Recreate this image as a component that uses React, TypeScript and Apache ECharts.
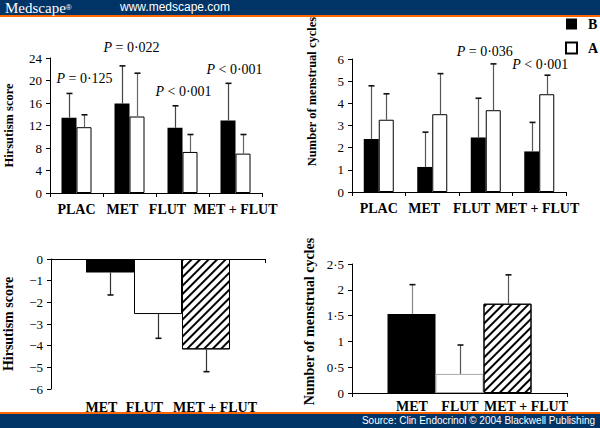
import React, { useEffect, useRef } from "react";
import * as echarts from "echarts";

// ---------- data ----------
const treatments = ["PLAC", "MET", "FLUT", "MET + FLUT"];
const hirsBefore = [13.4, 15.9, 11.6, 12.9];
const hirsBeforeTop = [17.7, 22.6, 15.5, 19.5];
const hirsAfter = [11.7, 13.6, 7.3, 7.0];
const hirsAfterTop = [13.9, 21.3, 10.4, 10.4];
const hirsPText = ["P = 0·125", "P = 0·022", "P < 0·001", "P < 0·001"];
const hirsPCat = [0, 1, 2, 3];
const hirsPY = [20.3, 25.8, 18.0, 22.0];

const cycBefore = [2.39, 1.13, 2.46, 1.83];
const cycBeforeTop = [4.79, 2.7, 4.23, 3.14];
const cycAfter = [3.26, 3.51, 3.69, 4.41];
const cycAfterTop = [4.43, 5.34, 5.78, 5.27];
const cycPText = ["P = 0·036", "P < 0·001"];
const cycPCat = [2, 3];
const cycPY = [6.32, 5.73];

const changeGroups = ["MET", "FLUT", "MET + FLUT"];
const hirsChange = [-0.62, -2.54, -4.17];
const hirsChangeEnd = [-1.66, -3.66, -5.2];
const cycChange = [1.53, 0.37, 1.73];
const cycChangeEnd = [2.1, 0.93, 2.29];

const hirsTicks = { min: 0, max: 24, interval: 4 };
const cycTicks = { min: 0, max: 6, interval: 1 };
const hirsChangeTicks = { min: -6, max: 0, interval: 1 };
const cycChangeTicks = { min: 0, max: 2.5, interval: 0.5 };

// ---------- styling ----------
const SERIF = "Liberation Serif, Times New Roman, serif";
const SANS = "Liberation Sans, Arial, sans-serif";
const NAVY = "#003366";
const ORANGE = "#ff6600";
const PAIR_BAR = 15;
const CHANGE_BAR = 48;

const hatch = {
  symbol: "rect",
  symbolSize: 1,
  color: "#000",
  backgroundColor: "#fff",
  dashArrayX: [1, 0],
  dashArrayY: [1.2, 3.2],
  rotation: -Math.PI / 4,
};

function baseY(gridIndex: number, ticks: any, name: string, nameGap: number, fmt: (v: number) => string, nameSize: number, namePad?: number[]) {
  return {
    type: "value",
    gridIndex,
    min: ticks.min,
    max: ticks.max,
    interval: ticks.interval,
    name,
    nameLocation: "middle",
    nameGap,
    nameTextStyle: {
      fontFamily: SERIF,
      fontWeight: "bold",
      fontSize: nameSize,
      color: "#000",
      padding: namePad || 0,
    },
    axisLine: { show: true, lineStyle: { color: "#000", width: 1 } },
    axisTick: { show: true, length: 4, lineStyle: { color: "#000" } },
    axisLabel: { color: "#000", fontFamily: SERIF, fontSize: 13, margin: 8, formatter: fmt },
    splitLine: { show: false },
  };
}

function tok(extra: any) {
  return Object.assign({ fontFamily: SERIF, fontWeight: "bold", fontSize: 14, color: "#000" }, extra);
}

function errorSeries(xAxisIndex: number, yAxisIndex: number, cats: number[], starts: number[], ends: number[], offset: number, lineColor: string) {
  return {
    type: "custom",
    xAxisIndex,
    yAxisIndex,
    silent: true,
    clip: false,
    z: 3,
    encode: { x: 0, y: [1, 2] },
    data: cats.map((c, i) => [c, starts[i], ends[i]]),
    renderItem: (params: any, api: any) => {
      const c = api.value(0);
      const p0 = api.coord([c, api.value(1)]);
      const p1 = api.coord([c, api.value(2)]);
      const x = Math.round(p0[0] + offset) + 0.5;
      return {
        type: "group",
        children: [
          { type: "line", shape: { x1: x, y1: p0[1], x2: x, y2: p1[1] }, style: { stroke: lineColor, lineWidth: 1.2 } },
          { type: "line", shape: { x1: x - 3, y1: p1[1], x2: x + 3, y2: p1[1] }, style: { stroke: "#111", lineWidth: 1.6 } },
        ],
      };
    },
  };
}

function pSeries(xAxisIndex: number, yAxisIndex: number, cats: number[], ys: number[], texts: string[], dxs: number[]) {
  return {
    type: "custom",
    xAxisIndex,
    yAxisIndex,
    silent: true,
    clip: false,
    z: 5,
    encode: { x: 0, y: 1 },
    data: cats.map((c, i) => [c, ys[i], i]),
    renderItem: (params: any, api: any) => {
      const i = api.value(2);
      const p = api.coord([api.value(0), api.value(1)]);
      const t = texts[i].replace(/^P/, "{i|P}");
      return {
        type: "text",
        x: p[0] + dxs[i],
        y: p[1],
        style: {
          text: t,
          fontFamily: SERIF,
          fontSize: 14,
          fill: "#000",
          align: "center",
          verticalAlign: "middle",
          rich: { i: { fontFamily: SERIF, fontSize: 14, fontStyle: "italic", fill: "#000" } },
        },
      };
    },
  };
}

const dotFmt = (v: number) => String(v).replace(".", "·");
const minusFmt = (v: number) => (v < 0 ? "\u2212" + Math.abs(v) : String(v));

export default function App() {
  const ref = useRef<HTMLDivElement>(null);
  useEffect(() => {
    const chart = echarts.init(ref.current!, null, { renderer: "svg" });
    const topXAxis = (gridIndex: number, pads: number[]) => ({
      type: "category",
      gridIndex,
      data: treatments,
      axisLine: { show: true, lineStyle: { color: "#000", width: 1 } },
      axisTick: { show: true, length: 4, lineStyle: { color: "#000" } },
      axisLabel: {
        margin: 9,
        interval: 0,
        formatter: (v: string, i: number) => `{s${i}|${v}}`,
        rich: {
          s0: tok({ padding: [0, pads[0], 0, 0] }),
          s1: tok({ padding: [0, pads[1], 0, 0] }),
          s2: tok({ padding: [0, pads[2], 0, 0] }),
          s3: tok({ padding: [0, pads[3], 0, 0] }),
        },
      },
    });

    const option: any = {
      animation: false,
      backgroundColor: "#fff",
      legend: {
        data: ["B", "A"],
        orient: "vertical",
        left: 560,
        top: 12,
        itemWidth: 11,
        itemHeight: 11,
        itemGap: 10,
        icon: "rect",
        selectedMode: false,
        textStyle: { fontFamily: SERIF, fontWeight: "bold", fontSize: 14, color: "#000", padding: [0, 0, 0, 6] },
      },
      grid: [
        { left: 50, top: 58, width: 212, height: 135 },
        { left: 352, top: 59, width: 214, height: 133 },
        { left: 50, top: 259, width: 215, height: 130 },
        { left: 352, top: 264, width: 215, height: 129 },
      ],
      xAxis: [
        topXAxis(0, [0, 14, 30, 0]),
        topXAxis(1, [0, 16, 28, 4]),
        {
          type: "category",
          gridIndex: 2,
          position: "top",
          data: [""],
          axisLine: { show: true, onZero: false, lineStyle: { color: "#000", width: 1 } },
          axisTick: { show: true, inside: true, length: 4, lineStyle: { color: "#000" } },
          axisLabel: { show: false },
        },
        {
          type: "category",
          gridIndex: 2,
          position: "bottom",
          data: ["g"],
          axisLine: { show: false, onZero: false },
          axisTick: { show: false },
          axisLabel: {
            margin: 11,
            padding: [0, 0, 0, 28],
            formatter: () => `{a|${changeGroups[0]}}{b|${changeGroups[1]}}{c|${changeGroups[2]}}`,
            rich: {
              a: tok({ width: 30, align: "center" }),
              b: tok({ width: 56, align: "center" }),
              c: tok({ width: 85, align: "left" }),
            },
          },
        },
        {
          type: "category",
          gridIndex: 3,
          position: "bottom",
          data: ["g"],
          axisLine: { show: true, onZero: false, lineStyle: { color: "#000", width: 1 } },
          axisTick: { show: true, length: 4, lineStyle: { color: "#000" } },
          axisLabel: {
            margin: 6,
            padding: [0, 0, 0, 37],
            formatter: () => `{a|${changeGroups[0]}}{b|${changeGroups[1]}}{c|${changeGroups[2]}}`,
            rich: {
              a: tok({ width: 48, align: "center" }),
              b: tok({ width: 48, align: "center" }),
              c: tok({ width: 84, align: "left" }),
            },
          },
        },
      ],
      yAxis: [
        baseY(0, hirsTicks, "Hirsutism score", 35, (v) => String(v), 12.5),
        baseY(1, cycTicks, "Number of menstrual cycles", 34, (v) => String(v), 12.5, [0, 0, 0, 68]),
        baseY(2, hirsChangeTicks, "Hirsutism score", 36, minusFmt, 14),
        baseY(3, cycChangeTicks, "Number of menstrual cycles", 36, dotFmt, 14, [0, 0, 0, 14]),
      ],
      series: [
        {
          name: "B",
          type: "bar",
          xAxisIndex: 0,
          yAxisIndex: 0,
          barWidth: PAIR_BAR,
          barGap: "0%",
          itemStyle: { color: "#000" },
          data: hirsBefore,
        },
        {
          name: "A",
          type: "bar",
          xAxisIndex: 0,
          yAxisIndex: 0,
          barWidth: PAIR_BAR,
          barGap: "0%",
          itemStyle: { color: "#fff", borderColor: "#000", borderWidth: 1 },
          data: hirsAfter,
        },
        errorSeries(0, 0, [0, 1, 2, 3], hirsBefore, hirsBeforeTop, -PAIR_BAR / 2, "#444"),
        errorSeries(0, 0, [0, 1, 2, 3], hirsAfter, hirsAfterTop, PAIR_BAR / 2, "#666"),
        pSeries(0, 0, hirsPCat, hirsPY, hirsPText, [8, 2, 1, -1]),
        {
          name: "B",
          type: "bar",
          xAxisIndex: 1,
          yAxisIndex: 1,
          barWidth: PAIR_BAR,
          barGap: "0%",
          itemStyle: { color: "#000" },
          data: cycBefore,
        },
        {
          name: "A",
          type: "bar",
          xAxisIndex: 1,
          yAxisIndex: 1,
          barWidth: PAIR_BAR,
          barGap: "0%",
          itemStyle: { color: "#fff", borderColor: "#000", borderWidth: 1 },
          data: cycAfter,
        },
        errorSeries(1, 1, [0, 1, 2, 3], cycBefore, cycBeforeTop, -PAIR_BAR / 2, "#555"),
        errorSeries(1, 1, [0, 1, 2, 3], cycAfter, cycAfterTop, PAIR_BAR / 2, "#555"),
        pSeries(1, 1, cycPCat, cycPY, cycPText, [-1, 1]),
        // change in hirsutism
        {
          name: changeGroups[0],
          type: "bar",
          xAxisIndex: 2,
          yAxisIndex: 2,
          barWidth: CHANGE_BAR,
          barGap: "0%",
          itemStyle: { color: "#000" },
          data: [hirsChange[0]],
        },
        {
          name: changeGroups[1],
          type: "bar",
          xAxisIndex: 2,
          yAxisIndex: 2,
          barWidth: CHANGE_BAR,
          barGap: "0%",
          itemStyle: { color: "#fff", borderColor: "#000", borderWidth: 1 },
          data: [hirsChange[1]],
        },
        {
          name: changeGroups[2],
          type: "bar",
          xAxisIndex: 2,
          yAxisIndex: 2,
          barWidth: CHANGE_BAR,
          barGap: "0%",
          itemStyle: { color: "#fff", borderColor: "#000", borderWidth: 1, decal: hatch },
          data: [hirsChange[2]],
        },
        errorSeries(2, 2, [0], [hirsChange[0]], [hirsChangeEnd[0]], -CHANGE_BAR, "#333"),
        errorSeries(2, 2, [0], [hirsChange[1]], [hirsChangeEnd[1]], 0, "#333"),
        errorSeries(2, 2, [0], [hirsChange[2]], [hirsChangeEnd[2]], CHANGE_BAR, "#333"),
        // change in cycles
        {
          name: changeGroups[0],
          type: "bar",
          xAxisIndex: 4,
          yAxisIndex: 3,
          barWidth: CHANGE_BAR,
          barGap: "0%",
          itemStyle: { color: "#000" },
          data: [cycChange[0]],
        },
        {
          name: changeGroups[1],
          type: "bar",
          xAxisIndex: 4,
          yAxisIndex: 3,
          barWidth: CHANGE_BAR,
          barGap: "0%",
          itemStyle: { color: "#fff", borderColor: "#aaa", borderWidth: 1 },
          data: [cycChange[1]],
        },
        {
          name: changeGroups[2],
          type: "bar",
          xAxisIndex: 4,
          yAxisIndex: 3,
          barWidth: CHANGE_BAR,
          barGap: "0%",
          itemStyle: { color: "#fff", borderColor: "#000", borderWidth: 1, decal: hatch },
          data: [cycChange[2]],
        },
        errorSeries(4, 3, [0], [cycChange[0]], [cycChangeEnd[0]], -CHANGE_BAR, "#888"),
        errorSeries(4, 3, [0], [cycChange[1]], [cycChangeEnd[1]], 0, "#555"),
        errorSeries(4, 3, [0], [cycChange[2]], [cycChangeEnd[2]], CHANGE_BAR, "#555"),
      ],
      graphic: [
        { type: "rect", left: 0, top: 0, shape: { width: 600, height: 15 }, style: { fill: NAVY }, silent: true },
        { type: "rect", left: 0, top: 15, shape: { width: 600, height: 2 }, style: { fill: ORANGE }, silent: true },
        {
          type: "text",
          left: 5,
          top: 0,
          style: {
            text: "{m|Medscape}{r|®}",
            rich: {
              m: { fontFamily: SERIF, fontSize: 15, fill: "#fff" },
              r: { fontFamily: SANS, fontSize: 8, fill: "#fff" },
            },
          },
        },
        {
          type: "text",
          left: 120,
          top: 1,
          style: { text: "www.medscape.com", fontFamily: SANS, fontSize: 12, fill: "#fff" },
        },
        { type: "rect", left: 0, top: 412, shape: { width: 600, height: 2 }, style: { fill: ORANGE }, silent: true },
        { type: "rect", left: 0, top: 414, shape: { width: 600, height: 14 }, style: { fill: NAVY }, silent: true },
        {
          type: "text",
          right: 5,
          top: 415,
          style: { text: "Source: Clin Endocrinol © 2004 Blackwell Publishing", fontFamily: SANS, fontSize: 10, fill: "#fff" },
        },
      ],
    };
    chart.setOption(option);
    return () => chart.dispose();
  }, []);
  return <div ref={ref} style={{ position: "fixed", left: 0, top: 0, width: 600, height: 428 }} />;
}
